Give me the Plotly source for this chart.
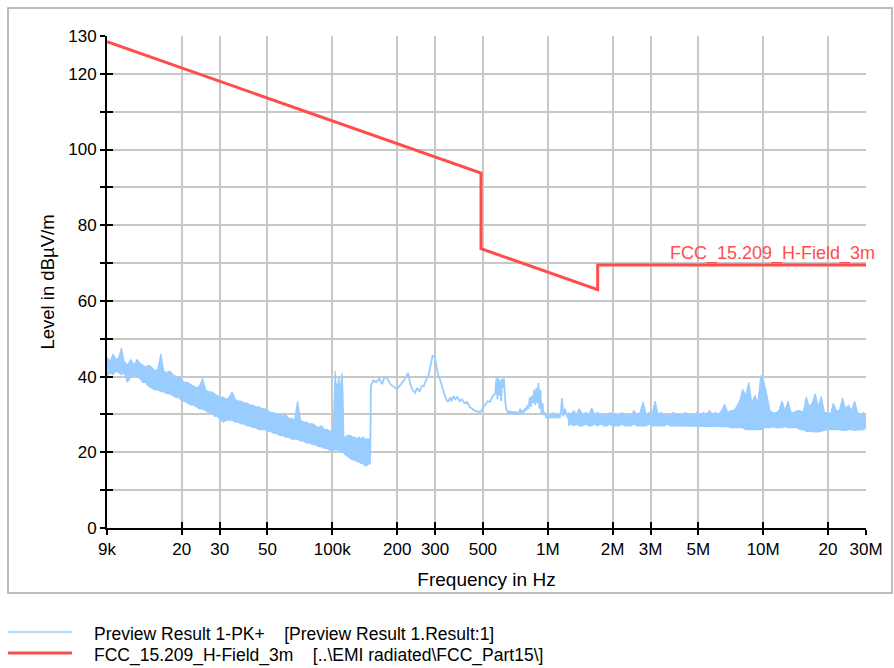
import math
import plotly.graph_objects as go

# ---------------- data ----------------
x_tick_vals = [9e3, 2e4, 3e4, 5e4, 1e5, 2e5, 3e5, 5e5, 1e6, 2e6, 3e6, 5e6, 1e7, 2e7, 3e7]
x_tick_text = ["9k", "20", "30", "50", "100k", "200", "300", "500", "1M", "2M", "3M", "5M", "10M", "20", "30M"]
y_tick_vals = [0, 10, 20, 30, 40, 50, 60, 70, 80, 90, 100, 110, 120, 130]
y_tick_text = ["0", "", "20", "", "40", "", "60", "", "80", "", "100", "", "120", "130"]

limit_name = "FCC_15.209_H-Field_3m"
limit_freq_hz = [9e3, 490e3, 490e3, 1.705e6, 1.705e6, 30e6]
limit_level = [128.5, 93.8, 73.8, 63.0, 69.5, 69.5]

# Preview Result 1-PK+ , 9 kHz - 150 kHz : upper / lower edge of the noisy band
pk_low_khz = [9.0, 9.3, 9.6, 9.9, 10.2, 10.5, 10.8, 11.2, 11.6, 12.0, 12.4, 12.8, 13.2, 13.6, 14.0,
              14.5, 15.0, 15.5, 16.0, 16.5, 17.0, 17.6, 18.2, 18.8, 19.4, 20.0, 20.6, 21.3, 22.0,
              22.7, 23.4, 24.2, 25.0, 25.8, 26.6, 27.5, 28.4, 29.3, 30.2, 31.2, 32.2, 33.2, 34.3,
              35.4, 36.5, 37.7, 38.9, 40.2, 41.5, 42.8, 44.2, 45.6, 47.1, 48.6, 50.2, 51.8, 53.5,
              55.2, 57.0, 58.8, 60.7, 62.7, 64.7, 66.8, 69.0, 71.2, 73.5, 75.9, 78.4, 80.9, 83.5,
              86.2, 89.0, 91.9, 94.9, 98.0, 101, 102, 103, 104, 105, 106, 107, 108, 109, 110, 111,
              112, 113, 114, 115, 118, 121, 124, 127, 130, 133, 136, 139, 142, 145, 148, 150]
pk_low_upper = [45, 44, 46, 44.5, 45, 47.5, 44, 43, 44.5, 43, 44.5, 43.5, 43, 42.5, 43,
                42.5, 41.5, 42, 46, 41.5, 41, 41.5, 40.5, 40, 40, 39, 38.5, 38.5, 38,
                37.5, 37, 37.5, 39.5, 36.5, 36, 36, 35.5, 35, 34.5, 34.5, 34, 34.5, 36,
                34, 33.5, 33.5, 33, 33, 32.5, 32.5, 32, 32, 31.5, 31.5, 31, 30.5, 30.5,
                30, 30, 29.5, 30, 29, 29, 28.5, 33.5, 28.5, 28, 28, 27.5, 27.5, 27,
                26.5, 27, 26, 26, 25.5, 26, 36, 41.5, 38, 38, 37, 40, 38, 37, 39, 41,
                36, 24.5, 24, 24, 24.5, 24.5, 24, 24, 23.5, 24, 23.5, 24, 23.5, 23.5, 23.5, 23]
pk_low_lower = [40, 41, 40.5, 41.5, 41, 40.5, 41, 38.5, 40, 40.5, 40, 39.5, 38.5, 38.5, 37.5,
                37, 36.5, 36.5, 36, 36, 35.5, 35.5, 35, 34.5, 34.5, 33.5, 33.5, 33, 32.5,
                32.5, 32, 31.5, 31.5, 31, 30.5, 30.5, 29.5, 29.5, 28.5, 28, 28.5, 28.5, 28.5,
                28, 28, 27.5, 27.5, 27, 27, 26.5, 26.5, 26, 26, 26, 25.5, 25.5, 25,
                25, 24.5, 24.5, 24, 24, 23.5, 23.5, 23.5, 23, 23, 22.5, 22.5, 22, 22,
                21.5, 21.5, 21, 21, 20.5, 20.5, 21, 20.5, 21, 20.5, 21, 20.5, 20.5, 20, 20.5, 20,
                20, 20, 19.5, 19.5, 19, 18.5, 18, 18, 17.5, 17.5, 17, 17, 16.5, 16.5, 17, 17]

# Preview Result 1-PK+ , 150 kHz - 1.24 MHz : single trace
pk_mid_khz = [150, 151, 155, 160, 165, 170, 175, 180, 186, 192, 199, 205, 212, 218, 225, 230, 236,
              242, 248, 254, 260, 266, 272, 280, 286, 292, 298, 304, 310, 317, 324, 331, 338,
              345, 352, 358, 365, 372, 380, 390, 400, 410, 422, 434, 446, 458, 470, 485, 498,
              510, 525, 540, 555, 570, 578, 584, 590, 596, 602, 608, 614, 620, 626, 632, 640,
              648, 656, 665, 675, 685, 695, 705, 715, 725, 735, 745, 755, 765, 775, 785, 795,
              805, 815, 825, 835, 845, 855, 865, 875, 885, 895, 905, 915, 925, 935, 945, 955,
              970, 985, 1000, 1015, 1030, 1045, 1060, 1075, 1090, 1105, 1120, 1135, 1150, 1165,
              1180, 1200, 1240]
pk_mid_dbuv = [19, 37.5, 39, 38.5, 39.5, 38, 40, 39.5, 38, 37.5, 36.7, 37.5, 38.5, 39.5, 41, 38, 36.5,
               35.7, 37, 36, 37.5, 37.5, 39, 40.5, 43, 45.5, 45.5, 43, 40.5, 39, 37, 35.5, 34,
               33.3, 34.5, 33.5, 34.8, 34, 34.6, 33.5, 34, 33, 33.3, 32, 31.5, 31, 30.8, 30.6, 31.5,
               32.5, 33.5, 33.3, 34.8, 35.5, 39.5, 34, 39.8, 35, 39, 33.5, 39.5, 37, 39.5, 35, 31.5,
               31, 30, 31, 30.2, 30.8, 30, 30.8, 30, 30.5, 30.2, 31.5, 30.2, 31, 30.5, 31.7, 31,
               32.5, 31.5, 34.5, 32, 35, 33, 36.5, 32.5, 37, 33, 38.3, 31.5, 36.5, 30, 33, 29.9,
               30.5, 29, 30, 29, 30, 29, 30.5, 29, 30, 29, 30, 29, 30.5, 34.3,
               29.5, 31.5, 29]

# Preview Result 1-PK+ , 1.24 MHz - 30 MHz : upper / lower edge of the noisy band
pk_high_khz = [1240, 1280, 1320, 1360, 1400, 1450, 1500, 1550, 1600, 1650, 1700, 1760, 1820, 1880,
               1940, 2000, 2070, 2140, 2210, 2280, 2350, 2430, 2510, 2590, 2680, 2770, 2860, 2950,
               3050, 3150, 3250, 3360, 3470, 3580, 3700, 3820, 3950, 4080, 4210, 4350, 4490, 4640,
               4790, 4950, 5110, 5280, 5450, 5630, 5820, 6010, 6210, 6410, 6620, 6840, 7060, 7290,
               7530, 7780, 8030, 8300, 8570, 8850, 9140, 9440, 9750, 10070, 10400, 10740, 11090,
               11460, 11830, 12220, 12620, 13040, 13470, 13910, 14370, 14840, 15330, 15830, 16350,
               16890, 17440, 18010, 18610, 19220, 19850, 20500, 21170, 21870, 22590, 23330, 24100,
               24890, 25710, 26550, 27420, 28320, 29250, 30000]
pk_high_upper = [30.5, 30, 31, 30, 31.5, 30, 30.5, 30, 31.7, 30, 30.5, 30, 30, 29.5,
                 30.5, 30, 30, 29.5, 30.5, 30, 30, 29.5, 31, 30, 30.5, 33.3, 30, 30.5,
                 30, 33.5, 30, 30.5, 30, 30, 29.5, 30.5, 30, 30, 29.5, 30.5, 30, 30,
                 29.5, 30.8, 30, 30.5, 30, 31, 30, 30.5, 30, 31, 32.7, 30.5, 31, 31,
                 32, 33.6, 36.6, 35, 38.5, 33, 35, 33, 40.3, 38.6, 35.2, 31, 30.5,
                 30.4, 31, 33.6, 31, 33.5, 30.5, 30.5, 31, 31, 30.5, 34.6, 32,
                 33, 35.5, 32, 34.8, 30.5, 30.5, 30, 33, 31, 31, 34.3, 31.5,
                 32.5, 31, 33.5, 30.5, 30, 30.5, 29.5]
pk_high_lower = [27, 27.5, 27, 27.5, 27, 27, 27.5, 27, 27, 27.5, 27, 27.5, 27, 27,
                 27.5, 27, 27, 27, 27.5, 27, 27, 27, 27.5, 27, 27, 27, 27, 27.5,
                 27, 27, 27, 27, 27, 27.5, 27, 27, 27, 27, 26.8, 27, 27, 27,
                 26.8, 27, 27, 27, 26.8, 27, 27, 27, 26.8, 26.8, 26.8, 26.8, 26.5, 26.5,
                 26.5, 26.5, 26.5, 26, 26, 26, 26, 26, 26, 26.5, 26.5, 26.5, 26.8,
                 26.5, 26.5, 26.5, 26.8, 26.5, 26.5, 26.5, 26.5, 26, 26, 25.5, 25.5,
                 25.5, 25.4, 25.4, 25.5, 25.8, 26, 26, 26, 26, 26, 25.8, 25.8,
                 26, 26, 25.8, 25.8, 26, 26, 26.5]

pk_name = "Preview Result 1-PK+"
pk_source = "[Preview Result 1.Result:1]"
limit_source = r"[..\EMI radiated\FCC_Part15\]"

# ---------------- figure ----------------
W, H = 894, 668
ML, MR, MT, MB = 107, 28, 36, 140
PW, PH = W - ML - MR, H - MT - MB


def px_x(p):
    return (p - ML) / PW


def px_y(p):
    return (H - MB - p) / PH


FONT = "Liberation Sans, Arial, sans-serif"
BLUE = "#99ccff"
RED = "#ff4d4d"
GRID = "#c8c8c8"


def band(freq_khz, upper, lower):
    xs = [f * 1e3 for f in freq_khz] + [f * 1e3 for f in reversed(freq_khz)]
    ys = list(upper) + list(reversed(lower))
    return go.Scatter(x=xs, y=ys, mode="lines", fill="toself", fillcolor=BLUE,
                      line=dict(color=BLUE, width=1.2), showlegend=False, hoverinfo="skip",
                      xaxis="x", yaxis="y")


fig = go.Figure()
fig.add_trace(band(pk_low_khz, pk_low_upper, pk_low_lower))
fig.add_trace(go.Scatter(x=[f * 1e3 for f in pk_mid_khz], y=pk_mid_dbuv, mode="lines", name=pk_name,
                         line=dict(color=BLUE, width=1.8), showlegend=False,
                         xaxis="x", yaxis="y"))
fig.add_trace(band(pk_high_khz, pk_high_upper, pk_high_lower))
fig.add_trace(go.Scatter(x=limit_freq_hz, y=limit_level, mode="lines", name=limit_name,
                         line=dict(color=RED, width=3), showlegend=False,
                         xaxis="x2", yaxis="y2"))

xr = [math.log10(9e3), math.log10(3e7)]
yr = [0, 130]

fig.update_layout(
    width=W, height=H,
    margin=dict(l=ML, r=MR, t=MT, b=MB, pad=0),
    paper_bgcolor="white", plot_bgcolor="white",
    font=dict(family=FONT, size=17, color="black"),
    xaxis=dict(type="log", range=xr, tickmode="array", tickvals=x_tick_vals, ticktext=x_tick_text,
               showgrid=True, gridcolor=GRID, gridwidth=1.6, showline=True, linecolor="black",
               linewidth=2, ticks="outside", ticklen=5, tickwidth=2, tickcolor="black",
               zeroline=False, tickfont=dict(size=17),
               title=dict(text="Frequency in Hz", font=dict(size=19), standoff=14)),
    yaxis=dict(range=yr, tickmode="array", tickvals=y_tick_vals, ticktext=y_tick_text,
               showgrid=True, gridcolor=GRID, gridwidth=1.6, showline=True, linecolor="black",
               linewidth=2, ticks="outside", ticklen=5, tickwidth=2, tickcolor="black",
               zeroline=False, tickfont=dict(size=17),
               title=dict(text="Level in dBµV/m", font=dict(size=18.5), standoff=9)),
    xaxis2=dict(type="log", range=xr, overlaying="x", anchor="y", side="bottom",
                tickmode="array", tickvals=x_tick_vals, showticklabels=False, showgrid=False,
                showline=False, zeroline=False, ticks="inside", ticklen=6, tickwidth=2,
                tickcolor="black"),
    yaxis2=dict(range=yr, overlaying="y", anchor="x", side="left",
                tickmode="array", tickvals=y_tick_vals, showticklabels=False, showgrid=False,
                showline=False, zeroline=False, ticks="inside", ticklen=6, tickwidth=2,
                tickcolor="black"),
    showlegend=False,
)

# outer frame of the chart
fig.add_shape(type="rect", xref="paper", yref="paper",
              x0=px_x(8), x1=px_x(892), y0=px_y(593), y1=px_y(8),
              line=dict(color="#a8a8a8", width=1.5), fillcolor="rgba(0,0,0,0)", layer="below")

# limit label
fig.add_annotation(x=math.log10(limit_freq_hz[-1]), y=limit_level[-1], xref="x", yref="y",
                   text=limit_name, showarrow=False, xanchor="right", yanchor="middle",
                   xshift=11, yshift=11.5, font=dict(color=RED, size=18))

# manual legend below the chart
legend_rows = [(pk_name, pk_source, BLUE, 1.6, 632, 634),
               (limit_name, limit_source, RED, 3, 653, 655)]
for name, src, col, lw, ly, ty in legend_rows:
    fig.add_shape(type="line", xref="paper", yref="paper",
                  x0=px_x(8), x1=px_x(72), y0=px_y(ly), y1=px_y(ly),
                  line=dict(color=col, width=lw))
    fig.add_annotation(x=px_x(92), y=px_y(ty), xref="paper", yref="paper",
                       text=name + "\u00a0\u00a0\u00a0\u00a0" + src, showarrow=False,
                       xanchor="left", yanchor="middle", font=dict(size=17.5, color="black"))

fig.write_html("out.html")
